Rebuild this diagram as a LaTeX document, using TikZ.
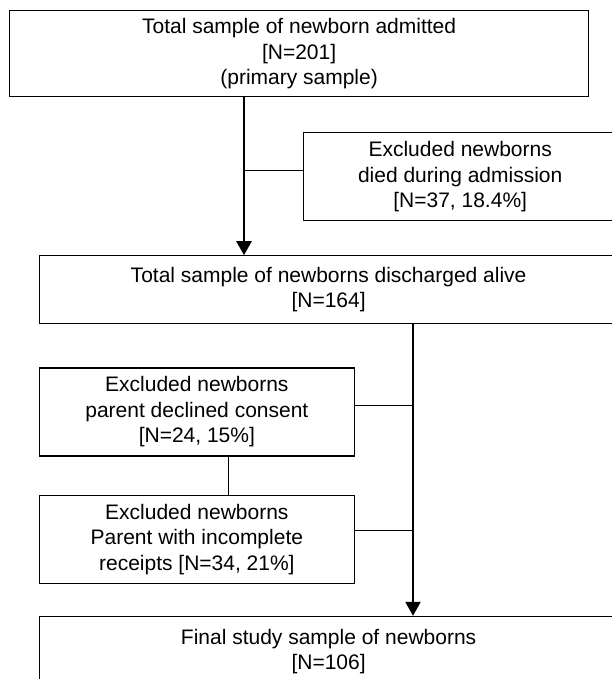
\documentclass[tikz,border=0pt]{standalone}
\usepackage{fontspec}
\setmainfont{Liberation Sans}
\usepackage{tikz}
\usetikzlibrary{arrows.meta,positioning}

\begin{document}
\begin{tikzpicture}[
    box/.style={draw,line width=0.6pt,align=center,inner sep=2pt,
      font=\fontsize{10.5pt}{12.75pt}\selectfont},
    main/.style={line width=1.2pt,->},
    tap/.style={line width=0.5pt},
    >={Triangle[length=7pt,width=7.5pt]}
  ]
    \useasboundingbox (0,0) rectangle (305.5pt,-339.5pt);

    \node[box,minimum width=289.5pt,minimum height=43pt,anchor=north west] (admit) at (4.5pt,-5pt)
      {Total sample of newborn admitted\\{}[N=201]\\(primary sample)};
    \node[box,minimum width=157pt,minimum height=44pt,below right=17.5pt and 1.75pt of admit.south] (died)
      {Excluded newborns\\died during admission\\{}[N=37, 18.4\%]};
    \node[box,minimum width=289pt,minimum height=34pt,below right=79pt and 15pt of admit.south west] (disc)
      {Total sample of newborns discharged alive\\{}[N=164]};
    \node[box,minimum width=157.25pt,minimum height=44pt,below=21.5pt of disc.south west,anchor=north west] (declined)
      {Excluded newborns\\parent declined consent\\{}[N=24, 15\%]};
    \node[box,minimum width=157.25pt,minimum height=44pt,below=19pt of declined.south west,anchor=north west] (receipts)
      {Excluded newborns\\Parent with incomplete\\receipts [N=34, 21\%]};
    \node[box,minimum width=289pt,minimum height=35pt,below=16pt of receipts.south west,anchor=north west] (final)
      {Final study sample of newborns\\{}[N=106]};

    \coordinate (j1) at (122pt,-85.5pt);
    \coordinate (j2) at (206.5pt,-202.5pt);
    \coordinate (j3) at (206.5pt,-265pt);

    \draw[main] (admit.south -| j1) -- (disc.north -| j1);
    \draw[tap] (j1) -- (j1 -| died.west);
    \draw[main] (disc.south -| j2) -- (final.north -| j2);
    \draw[tap] (declined.east |- j2) -- (j2);
    \draw[tap] (receipts.east |- j3) -- (j3);
    \draw[tap] ([xshift=16pt]declined.south) -- ([xshift=16pt]receipts.north);
  \end{tikzpicture}
\end{document}
